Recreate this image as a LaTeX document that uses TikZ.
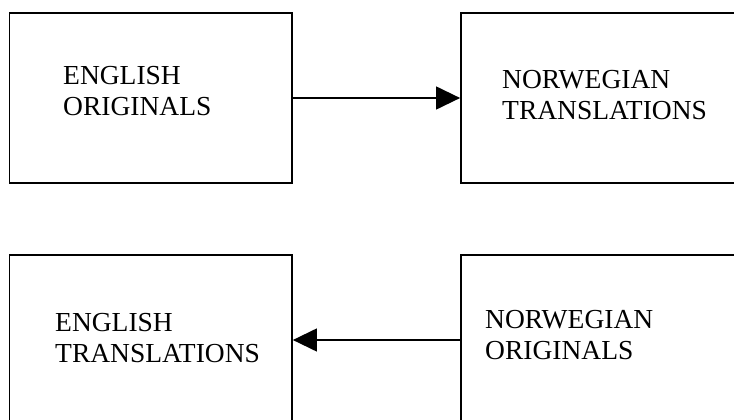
\documentclass[tikz,border=0pt]{standalone}
\usepackage{fontspec}
\setmainfont{Liberation Serif}
\usetikzlibrary{arrows.meta}
\begin{document}
\begin{tikzpicture}[x=1pt,y=-1pt,
  boxnode/.style={draw=black,line width=1.8pt,rectangle,inner sep=0pt,
    minimum width=282.5pt,minimum height=170pt},
  lbl/.style={inner sep=0pt,anchor=base west,align=left,
    font=\fontsize{27.5}{30.5}\selectfont},
  conn/.style={line width=1.3pt,-{Triangle[length=24pt,width=23pt]}}]
\useasboundingbox (0,0) rectangle (734,420);
\clip (0,0) rectangle (734,420);
\fill[white] (0,0) rectangle (734,420);
% boxes
\node[boxnode] (eo) at (150.75,98) {};
\node[boxnode] (nt) at (602.25,98) {};
\node[boxnode] (et) at (150.75,340) {};
\node[boxnode] (no) at (602.25,340) {};
% labels (anchored at the baseline of the last line)
\node[lbl] (teo) at (63,115) {ENGLISH\\ORIGINALS};
\node[lbl] (tnt) at (502,119) {NORWEGIAN\\TRANSLATIONS};
\node[lbl] (tet) at (55,362) {ENGLISH\\TRANSLATIONS};
\node[lbl] (tno) at (485,359) {NORWEGIAN\\ORIGINALS};
% connectors
\draw[conn] (eo.east) -- (nt.west);
\draw[conn] (no.west) -- (et.east);
\end{tikzpicture}
\end{document}
